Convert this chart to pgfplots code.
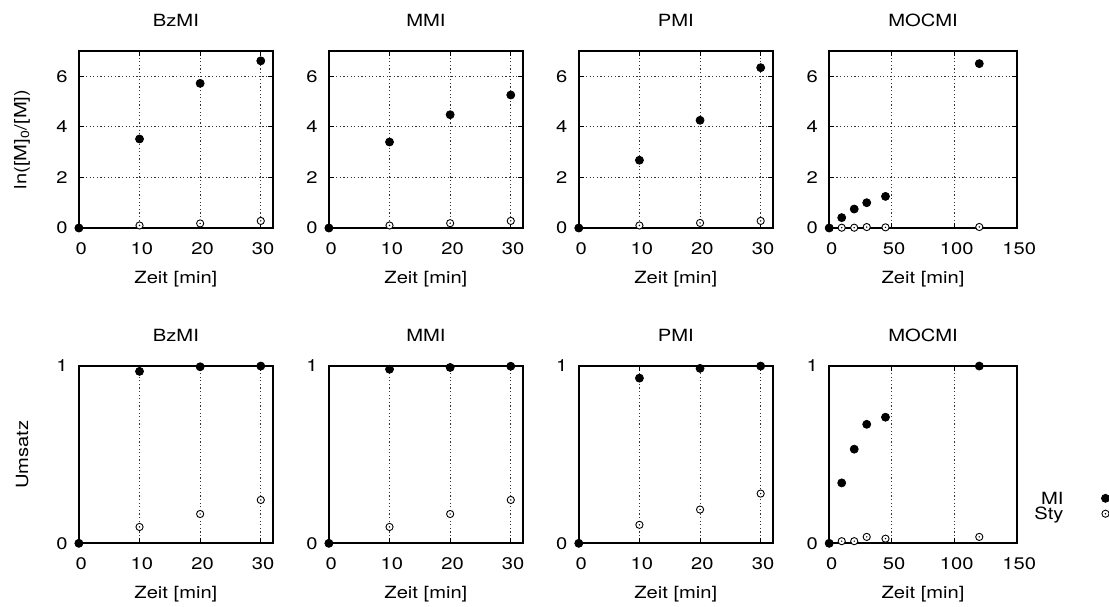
\documentclass[border=0pt]{standalone}
\usepackage{fontspec}
\setmainfont{TeX Gyre Heros}[FakeStretch=1.2]
\usepackage{pgfplots}
\usepackage{pgfplotstable}
\pgfplotsset{compat=1.18}

\newcommand\pf{\fontsize{8.4}{9.6}\selectfont}

% open circle with a dot in the middle (gnuplot style)
\pgfdeclareplotmark{odot}{%
  \pgfpathcircle{\pgfpointorigin}{\pgfplotmarksize}%
  \pgfusepathqfillstroke
  \pgfscope
  \pgfsetfillcolor{black}%
  \pgfpathcircle{\pgfpointorigin}{0.22\pgfplotmarksize}%
  \pgfusepathqfill
  \endpgfscope
}

% t = Zeit [min]; lnmi/lnsty = ln([M]0/[M]); umi/usty = Umsatz
\pgfplotstableread{
t   lnmi  lnsty  umi    usty
0   0     0      0      0
10  3.52  0.10   0.968  0.092
20  5.72  0.18   0.994  0.165
30  6.61  0.28   0.998  0.244
}\bzmi
\pgfplotstableread{
t   lnmi  lnsty  umi    usty
0   0     0      0      0
10  3.40  0.10   0.980  0.092
20  4.48  0.19   0.990  0.165
30  5.26  0.28   0.997  0.244
}\mmi
\pgfplotstableread{
t   lnmi  lnsty  umi    usty
0   0     0      0      0
10  2.68  0.10   0.930  0.104
20  4.26  0.20   0.985  0.190
30  6.34  0.28   0.998  0.280
}\pmi
\pgfplotstableread{
t    lnmi  lnsty  umi    usty
0    0     0      0      0
10   0.41  0.012  0.340  0.012
20   0.75  0.012  0.530  0.012
30   1.00  0.037  0.670  0.036
45   1.25  0.026  0.710  0.026
120  6.50  0.040  0.998  0.036
}\mocmi

\pgfplotsset{
  panel/.style={
    scale only axis, anchor=south west, clip=false,
    xmin=0, ymin=0,
    tick align=inside, major tick length=2.5pt,
    tick style={black, line width=0.5pt},
    axis line style={line width=0.9pt},
    grid=major,
    grid style={black!80, line width=0.55pt, dash pattern=on 0.6pt off 1.2pt},
    /pgf/number format/assume math mode=true,
    tick label style={font=\pf},
    xticklabel style={anchor=center, xshift=1.2pt, yshift=-10.3pt},
    yticklabel style={anchor=east, inner sep=0pt, xshift=-5.5pt},
    label style={font=\pf},
    title style={font=\pf, at={(0.5,1)}, anchor=center, yshift=9.4pt},
    xlabel={Zeit [min]},
    xlabel style={at={(axis description cs:0.5,0)}, anchor=center, yshift=-25.5pt},
    ylabel style={at={(axis description cs:-0.293,0.5)}, anchor=center},
  },
  toprow/.style={panel, height=88.5pt, ymax=7, ytick={0,2,4,6}},
  botrow/.style={panel, height=88.8pt, ymax=1, ytick={0,1}},
  short/.style={width=97pt, xmax=32, xtick={0,10,20,30}},
  long/.style={width=93.8pt, xmax=150, xtick={0,50,100,150}},
  mi/.style={only marks, mark=*, mark size=2pt, black},
  sty/.style={only marks, mark=odot, mark size=1.8pt,
    mark options={fill=white, draw=black, line width=0.45pt}},
}

\begin{document}
\begin{tikzpicture}
% ---- top row: ln([M]0/[M])
\begin{axis}[toprow, short, at={(39.45pt,189pt)}, title={BzMI},
  ylabel={ln([M]\textsubscript{0}/[M])}]
\addplot[sty] table[x=t, y=lnsty] {\bzmi};
\addplot[mi] table[x=t, y=lnmi] {\bzmi};
\end{axis}
\begin{axis}[toprow, short, at={(164.45pt,189pt)}, title={MMI}]
\addplot[sty] table[x=t, y=lnsty] {\mmi};
\addplot[mi] table[x=t, y=lnmi] {\mmi};
\end{axis}
\begin{axis}[toprow, short, at={(289.4pt,189pt)}, title={PMI}]
\addplot[sty] table[x=t, y=lnsty] {\pmi};
\addplot[mi] table[x=t, y=lnmi] {\pmi};
\end{axis}
\begin{axis}[toprow, long, at={(414.6pt,189pt)}, title={MOCMI}]
\addplot[sty] table[x=t, y=lnsty] {\mocmi};
\addplot[mi] table[x=t, y=lnmi] {\mocmi};
\end{axis}

% ---- bottom row: Umsatz
\begin{axis}[botrow, short, at={(39.45pt,31.35pt)}, title={BzMI}, ylabel={Umsatz}]
\addplot[sty] table[x=t, y=usty] {\bzmi};
\addplot[mi] table[x=t, y=umi] {\bzmi};
\end{axis}
\begin{axis}[botrow, short, at={(164.45pt,31.35pt)}, title={MMI}]
\addplot[sty] table[x=t, y=usty] {\mmi};
\addplot[mi] table[x=t, y=umi] {\mmi};
\end{axis}
\begin{axis}[botrow, short, at={(289.4pt,31.35pt)}, title={PMI}]
\addplot[sty] table[x=t, y=usty] {\pmi};
\addplot[mi] table[x=t, y=umi] {\pmi};
\end{axis}
\begin{axis}[botrow, long, at={(414.6pt,31.35pt)}, title={MOCMI},
  reverse legend, legend plot pos=right, legend cell align=right,
  legend style={draw=none, fill=none, font=\pf, inner sep=0pt,
    row sep=1.5pt, column sep=19pt,
    nodes={inner sep=0pt, text depth=0pt},
    at={(axis description cs:1.092,0.29)}, anchor=north west}]
\addplot[sty] table[x=t, y=usty] {\mocmi};
\addlegendentry{Sty}
\addplot[mi] table[x=t, y=umi] {\mocmi};
\addlegendentry{MI}
\end{axis}

\pgfresetboundingbox
\useasboundingbox (0,0) rectangle (554.5pt,303pt);
\end{tikzpicture}
\end{document}
